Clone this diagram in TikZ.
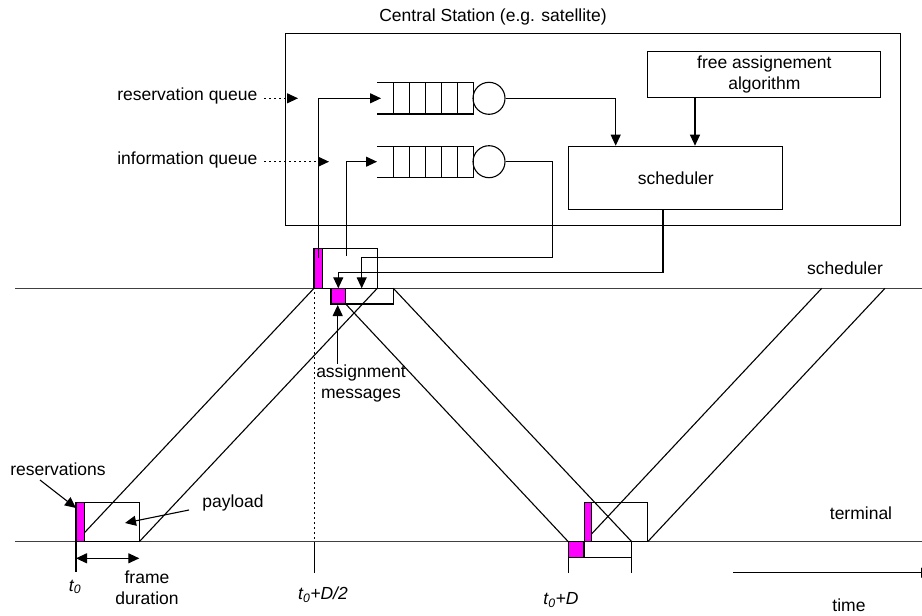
\documentclass[tikz,border=0pt]{standalone}
\usepackage{fontspec}
\setmainfont{Liberation Sans}
\usetikzlibrary{arrows.meta}
\definecolor{magfill}{RGB}{255,0,255}
\begin{document}
\begin{tikzpicture}[x=1pt,y=-1pt,line width=1.1pt,
  tri/.style={-{Triangle[length=11pt,width=10pt]}},
  tritri/.style={{Triangle[length=11pt,width=10pt]}-{Triangle[length=11pt,width=10pt]}},
  lbl/.style={font=\fontsize{17.5}{21}\selectfont,inner sep=0pt},
  mag/.style={fill=magfill,draw=black},
  tline/.style={line width=1.5pt,draw=black!75},
  dotline/.style={dash pattern=on 1.5pt off 3.5pt},
  qcell/.style={draw,minimum width=16pt,minimum height=31.3pt,inner sep=0pt}]
\useasboundingbox (0,0) rectangle (922,616);

% central station box
\node[draw,anchor=north west,minimum width=615pt,minimum height=192pt,inner sep=0pt] (cs) at (285,33) {};
\node[lbl] (cslbl) at (493,17) {Central Station (e.g. satellite)};

% queues
\foreach \nm/\yy in {rq/98.3,iq/161.7}{
  \draw (377,\yy-15.65) -- (393,\yy-15.65) (377,\yy+15.65) -- (393,\yy+15.65);
  \foreach \i in {0,...,4}{
    \node[qcell,anchor=west] at (393+16*\i,\yy) {};
  }
  \node[draw,circle,minimum size=32pt,inner sep=0pt] (\nm c) at (489,\yy) {};
  \coordinate (\nm in) at (381,\yy);
}
\coordinate (iqin) at (377,161.7);

% scheduler and free assignment
\node[draw,anchor=north west,minimum width=214pt,minimum height=63.3pt,lbl] (sch) at (568.3,145.7) {scheduler};
\node[draw,anchor=south west,minimum width=233pt,minimum height=46pt,lbl,align=center] (fa) at (647.3,97.7) {free assignement\\algorithm};

\coordinate (s1) at (615.7,145.7);
\coordinate (s2) at (695,145.7);
\draw[tri] (rqc.east) -| (s1);
\draw[tri] (fa.south -| s2) -- (s2);

% labels left
\node[lbl,anchor=mid east] (rql) at (258,98.3) {reservation queue};
\node[lbl,anchor=mid east] (iql) at (258,161.7) {information queue};
\coordinate (rqd) at (298,98.3);
\coordinate (iqd) at (329,161.7);
\draw[dotline,tri] ([xshift=6pt]rql.mid east) -- (rqd);
\draw[dotline,tri] ([xshift=6pt]iql.mid east) -- (iqd);

% time lines
\coordinate (sl0) at (15,288.3); \coordinate (sl1) at (922,288.3);
\coordinate (tl0) at (15,541.7); \coordinate (tl1) at (922,541.7);
\draw[tline] (sl0) -- (sl1);
\draw[tline] (tl0) -- (tl1);
\node[lbl] (schl) at (845,268) {scheduler};
\node[lbl] (terml) at (861,513) {terminal};

% diagonals
\draw (76,541.7) -- (314,288.3);
\draw (139.3,541.7) -- (377.3,288.3);
\draw (331,288.3) -- (568.3,541.7);
\draw (393.3,288.3) -- (631.7,541.7);
\draw (584.3,541.7) -- (821.7,288.3);
\draw (647.7,541.7) -- (885,288.3);

% dotted vertical at t0+D/2
\draw[dotline] (314.3,292) -- (314.3,541.7);

% frames at scheduler
\draw (314,248.3) rectangle (377.3,288.3);
\draw[mag] (314,248.3) rectangle (322.3,288.3);
\draw (331,288.3) rectangle (393.3,304);
\draw[mag] (331,288.3) rectangle (345.7,304);

% queue input arrows
\coordinate (r0) at (318.3,258);
\coordinate (i0) at (346.7,256);
\draw[tri] (r0) |- (rqin);
\draw[tri] (i0) |- (iqin);

% scheduler outputs down to timeline
\coordinate (a1) at (361.7,288.3);
\coordinate (a2) at (338.3,288.3);
\draw[tri] (iqc.east) -- (552.3,161.7) -- (552.3,257.5) -| (a1);
\draw[tri] (sch.south -| 663,0) -- (663,272.5) -| (a2);

% assignment messages
\node[lbl,align=center] (am) at (361,383) {assignment\\messages};
\coordinate (amt) at (337.7,305);
\draw[tri] (am.north -| amt) -- (amt);

% frames at terminal
\draw (76,502.3) rectangle (139.3,541.7);
\draw[mag] (76,502.3) rectangle (84.3,541.7);
\draw (584.3,502.3) rectangle (647.7,541.7);
\draw[mag] (584.3,502.3) rectangle (591.7,541.7);
\draw (568.3,541.7) rectangle (631.7,557.3);
\draw[mag] (568.3,541.7) rectangle (584,557.3);

% ticks
\draw (76,541.7) -- (76,571.7);
\draw (314.3,541.7) -- (314.3,572.7);
\draw (568.3,557.3) -- (568.3,573.3);
\draw (631.7,557.3) -- (631.7,573.3);

% reservations / payload
\node[lbl] (resl) at (58,469) {reservations};
\coordinate (rest) at (76,508);
\draw[tri] (40,480) -- (rest);
\node[lbl] (payl) at (233,503) {payload};
\coordinate (payt) at (125,523);
\draw[tri] (189,510) -- (payt);

% frame duration
\coordinate (fd0) at (76,558.3); \coordinate (fd1) at (139.3,558.3);
\draw[tritri] (fd0) -- (fd1);
\node[lbl,align=center] (fdl) at (147,588) {frame\\duration};

% time labels
\node[lbl] (t0) at (75,587) {\itshape t\textsubscript{0}};
\node[lbl] (t0d2) at (323,595) {\itshape t\textsubscript{0}+D/2};
\node[lbl] (t0d) at (561,600) {\itshape t\textsubscript{0}+D};

% time arrow
\coordinate (ta0) at (733.3,572.7); \coordinate (ta1) at (932,572.7);
\draw[tri] (ta0) -- (ta1);
\node[lbl] (timel) at (849,605) {time};
\end{tikzpicture}
\end{document}
